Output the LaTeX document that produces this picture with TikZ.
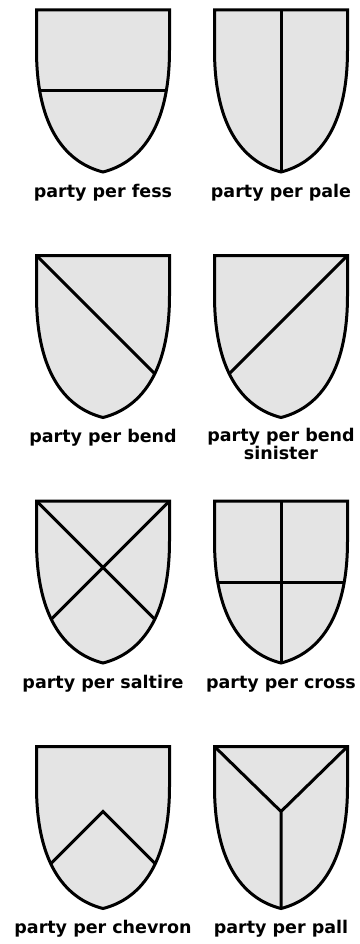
\documentclass[tikz,border=0pt]{standalone}
\usepackage{fontspec}
\setmainfont{DejaVu Sans}
\usepackage{tikz}
\usetikzlibrary{positioning}
\definecolor{shieldFill}{RGB}{228, 228, 228}

\begin{document}
\begin{tikzpicture}[x=1pt, y=-1pt,
  shield line/.style={line width=3pt, draw=black},
  division/.style={line width=3pt, draw=black},
  shield outline/.style={insert path={(0,0) -- (133,0) -- (133,40)
      .. controls (133,120) and (102,153) .. (66.5,162)
      .. controls (31,153) and (0,120) .. (0,40) -- cycle}},
  pics/shield/.style={code={
      \fill[shieldFill] [shield outline];
      \begin{scope}
        \clip [shield outline];
        \draw[division] #1;
      \end{scope}
      \draw[shield line] [shield outline];
  }},
  caption/.style={anchor=base, align=center,
    font=\fontsize{17.5}{17}\selectfont\bfseries}]
  \useasboundingbox (0,0) rectangle (359,944);

  % row 1
  \pic (fess) at (36.5,10) {shield={(-10,81) -- (143,81)}};
  \pic (pale) at (214.5,10) {shield={(66.5,-10) -- (66.5,170)}};
  \node[caption] (fessLabel) at (103,197) {party per fess};
  \node[caption] (paleLabel) at (281,197) {party per pale};

  % row 2
  \pic (bend) at (36.5,255.5) {shield={(0,0) -- (170,170)}};
  \pic (sinister) at (214.5,255.5) {shield={(133,0) -- (-37,170)}};
  \node[caption] (bendLabel) at (103,442.5) {party per bend};
  % base is the last line here
  \node[caption] (sinisterLabel) at (281,459.5) {party per bend\\sinister};

  % row 3
  \pic (saltire) at (36.5,501) {shield={(0,0) -- (170,170) (133,0) -- (-37,170)}};
  \pic (cross) at (214.5,501) {shield={(-10,81) -- (143,81) (66.5,-10) -- (66.5,170)}};
  \node[caption] (saltireLabel) at (103,688) {party per saltire};
  \node[caption] (crossLabel) at (281,688) {party per cross};

  % row 4
  \pic (chevron) at (36.5,746.5) {shield={(-60,191.5) -- (66.5,65) -- (193,191.5)}};
  \pic (pall) at (214.5,746.5) {shield={(0,0) -- (66.5,65) -- (133,0) (66.5,65) -- (66.5,170)}};
  \node[caption] (chevronLabel) at (103,933.5) {party per chevron};
  \node[caption] (pallLabel) at (281,933.5) {party per pall};
\end{tikzpicture}
\end{document}
